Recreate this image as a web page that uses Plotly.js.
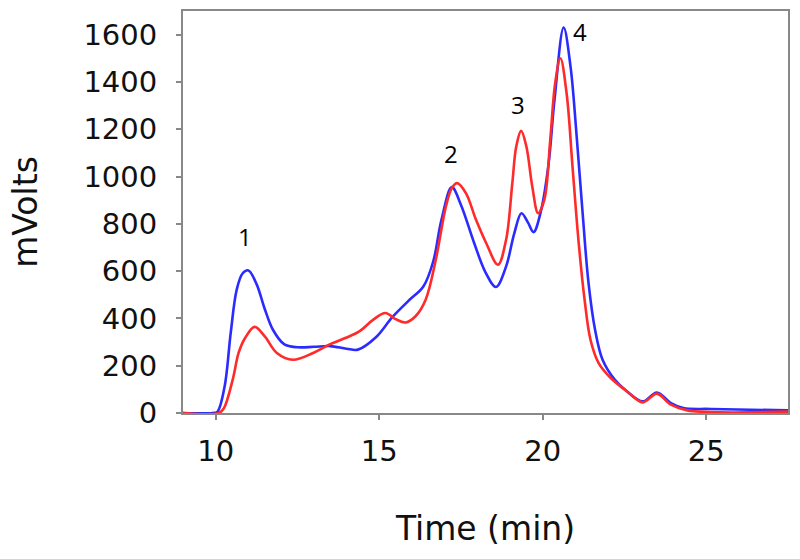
<!DOCTYPE html>
<html>
<head>
<meta charset="utf-8">
<script src="https://cdn.plot.ly/plotly-3.0.1.min.js"></script>
<style>html,body{margin:0;padding:0;background:#fff;}#chart{width:800px;height:559px;}</style>
</head>
<body>
<div id="chart"></div>
<script>
// Blue trace
const blueTime = [9, 9.9, 10.05, 10.27, 10.46, 10.64, 10.82, 11.0, 11.25, 11.5, 11.75, 12.1, 12.5, 13.0, 13.5, 14.0, 14.35, 14.9, 15.4, 15.9, 16.35, 16.65, 16.9, 17.22, 17.5, 17.9, 18.25, 18.57, 18.88, 19.13, 19.35, 19.55, 19.72, 19.93, 20.17, 20.36, 20.64, 20.85, 21.03, 21.22, 21.4, 21.6, 21.83, 22.2, 22.57, 23.06, 23.49, 23.92, 24.3, 25.15, 27.5];
const blueMv = [0, 0, 5, 110, 340, 520, 590, 603, 545, 440, 352, 290, 278, 280, 283, 272, 268, 320, 405, 475, 535, 640, 815, 955, 880, 720, 595, 533, 620, 760, 845, 805, 765, 845, 1043, 1324, 1630, 1465, 1184, 845, 550, 352, 225, 141, 92, 49, 87, 42, 21, 17, 11];
// Red trace
const redTime = [9, 10.1, 10.25, 10.52, 10.7, 10.89, 11.19, 11.5, 11.87, 12.36, 12.98, 13.47, 13.96, 14.39, 14.82, 15.19, 15.5, 15.81, 16.11, 16.42, 16.73, 17.04, 17.22, 17.38, 17.65, 17.96, 18.27, 18.63, 18.88, 19.07, 19.19, 19.34, 19.5, 19.68, 19.86, 20.05, 20.23, 20.38, 20.54, 20.73, 20.91, 21.1, 21.28, 21.46, 21.71, 22.08, 22.57, 23.06, 23.49, 23.92, 24.42, 27.5];
const redMv = [0, 0, 20, 141, 254, 315, 364, 324, 254, 225, 254, 289, 317, 345, 395, 423, 397, 383, 409, 479, 648, 874, 951, 972, 930, 817, 719, 627, 733, 972, 1127, 1193, 1127, 958, 845, 902, 1155, 1395, 1500, 1352, 1043, 719, 479, 310, 211, 148, 92, 45, 82, 35, 11, 6];
// Peak labels
const peakLabels = ["1", "2", "3", "4"];
const peakLabelX = [10.89, 17.2, 19.25, 21.14];
const peakLabelY = [747, 1099, 1303, 1615];
const xTicks = [10, 15, 20, 25];
const yTicks = [0, 200, 400, 600, 800, 1000, 1200, 1400, 1600];

const traces = [
  {x: blueTime, y: blueMv, type: 'scatter', mode: 'lines',
   line: {color: '#2b2bff', width: 2.6, shape: 'spline', smoothing: 1.0}},
  {x: redTime, y: redMv, type: 'scatter', mode: 'lines',
   line: {color: '#ff2a2a', width: 2.6, shape: 'spline', smoothing: 1.0}}
];

const annotations = peakLabels.map((t, i) => ({
  x: peakLabelX[i], y: peakLabelY[i], xref: 'x', yref: 'y', text: t, showarrow: false,
  font: {family: 'Open Sans, sans-serif', size: 24, color: '#000'}
}));

const axisCommon = {
  showline: true, mirror: true, linecolor: '#888', linewidth: 2,
  ticks: 'outside', ticklen: 5, tickcolor: '#888', tickwidth: 2,
  showgrid: false, zeroline: false,
  tickfont: {family: 'DejaVu Sans, sans-serif', size: 29, color: '#111'}
};

const layout = {
  width: 800, height: 559,
  margin: {l: 183, r: 12, t: 11, b: 146},
  paper_bgcolor: '#fff', plot_bgcolor: '#fff',
  showlegend: false,
  xaxis: Object.assign({}, axisCommon, {
    range: [9, 27.5], tickvals: xTicks, ticktext: xTicks.map(String),
    ticklabelstandoff: 6,
    title: {text: 'Time (min)', font: {family: 'DejaVu Sans, sans-serif', size: 33, color: '#111'}, standoff: 50}
  }),
  yaxis: Object.assign({}, axisCommon, {
    range: [0, 1700], tickvals: yTicks, ticktext: yTicks.map(String),
    ticklabelstandoff: 13,
    title: {text: 'mVolts', font: {family: 'DejaVu Sans, sans-serif', size: 33, color: '#111'}, standoff: 36}
  }),
  annotations: annotations
};

Plotly.newPlot('chart', traces, layout, {displayModeBar: false, staticPlot: true});
</script>
</body>
</html>
